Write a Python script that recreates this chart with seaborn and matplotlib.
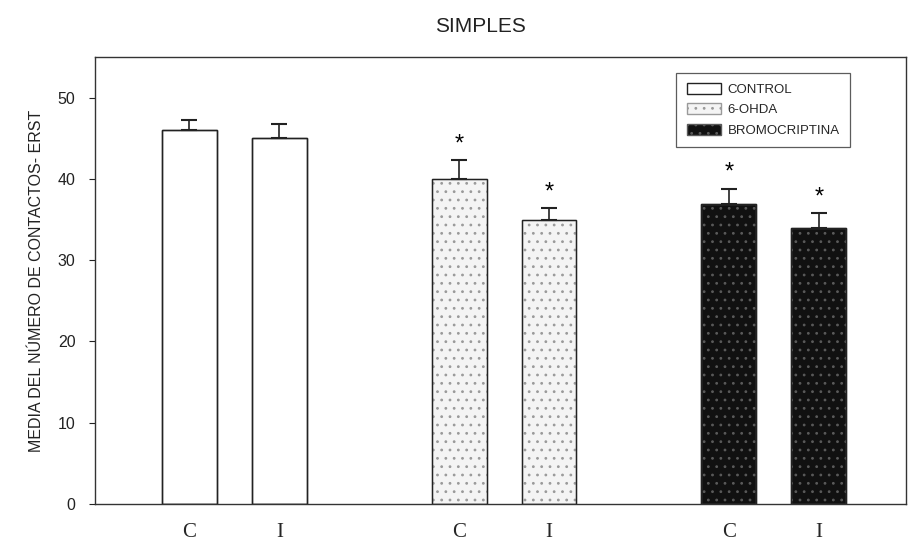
import matplotlib
matplotlib.use("Agg")
import matplotlib.pyplot as plt
import seaborn as sns
import pandas as pd
import numpy as np
from matplotlib.patches import Patch

groups = ["CONTROL", "CONTROL", "6-OHDA", "6-OHDA", "BROMOCRIPTINA", "BROMOCRIPTINA"]
sides = ["C", "I", "C", "I", "C", "I"]
positions = [0, 1, 3, 4, 6, 7]
means = [46.0, 45.0, 40.0, 34.9, 36.9, 33.9]
errors = [1.3, 1.7, 2.3, 1.5, 1.9, 1.9]
significant = [False, False, True, True, True, True]

df = pd.DataFrame({"grupo": groups, "lado": sides, "pos": positions,
                   "media": means, "err": errors})

sns.set_theme(style="white")
plt.rcParams["font.family"] = ["Liberation Sans", "DejaVu Sans"]
plt.rcParams["hatch.linewidth"] = 0.8

fig = plt.figure(figsize=(9.09, 5.46), dpi=100)
ax = fig.add_axes([95/909, 1-504/546, (906-95)/909, (504-57)/546])

palette = {"CONTROL": "#ffffff", "6-OHDA": "#f4f4f4", "BROMOCRIPTINA": "#111111"}
hatches = {"CONTROL": "", "6-OHDA": "..", "BROMOCRIPTINA": ".."}
hcolors = {"CONTROL": "#222222", "6-OHDA": "#9a9a9a", "BROMOCRIPTINA": "#5a5a5a"}

sns.barplot(data=df, x="pos", y="media", hue="grupo", native_scale=True,
            dodge=False, width=0.61, palette=palette, edgecolor="black",
            linewidth=1.0, errorbar=None, legend=False, ax=ax)

for patch in ax.patches:
    fc = patch.get_facecolor()
    for g, c in palette.items():
        if np.allclose(fc[:3], matplotlib.colors.to_rgb(c), atol=0.02):
            patch.set_hatch(hatches[g])
            patch.set_edgecolor(hcolors[g])
            break

n_first = len(ax.patches)
# crisp outline on top
sns.barplot(data=df, x="pos", y="media", hue="grupo", native_scale=True,
            dodge=False, width=0.61, palette=palette, fill=False,
            linewidth=1.0, errorbar=None, legend=False, ax=ax)
for patch in ax.patches[n_first:]:
    patch.set_edgecolor("#222222")
    patch.set_facecolor("none")
    patch.set_hatch("")

ax.errorbar(df["pos"], df["media"], yerr=[np.zeros(len(df)), df["err"]],
            fmt="none", ecolor="#222222", elinewidth=1.2, capsize=6, capthick=1.5)

for p, m, e, s in zip(positions, means, errors, significant):
    if s:
        ax.text(p, m + e + 0.6, "*", ha="center", va="bottom", fontsize=17,
                color="black")

ax.set_xlim(-1.05, 7.97)
ax.set_ylim(0, 55)
ax.set_yticks([0, 10, 20, 30, 40, 50])
ax.tick_params(axis="y", which="both", left=True, length=4, width=0.8,
               labelsize=11.5, colors="#222222", pad=10)
ax.set_xticks(positions)
ax.set_xticklabels(sides, fontfamily="Liberation Serif", fontsize=15)
ax.tick_params(axis="x", bottom=False, pad=8)
ax.set_xlabel("")
ax.set_ylabel("MEDIA DEL NÚMERO DE CONTACTOS- ERST", fontsize=11.5,
              color="#222222", labelpad=10)
for sp in ax.spines.values():
    sp.set_visible(True)
    sp.set_color("#333333")
    sp.set_linewidth(1.0)

handles = [Patch(facecolor=palette[g], edgecolor=hcolors[g], hatch=hatches[g], label=g)
           for g in ["CONTROL", "6-OHDA", "BROMOCRIPTINA"]]
leg = ax.legend(handles=handles, loc="upper right",
                bbox_to_anchor=((857-95)/811, 1-(66-57)/447),
                frameon=True, fancybox=False, edgecolor="#333333",
                fontsize=9.5, handlelength=2.6, handleheight=0.9,
                labelspacing=0.55, borderpad=0.8, handletextpad=0.5)
leg.get_frame().set_linewidth(0.9)

fig.text(480/909, 1-27/546, "SIMPLES", ha="center", va="center",
         fontsize=15, color="#222222")

fig.savefig("out.png", dpi=100, facecolor="white")
